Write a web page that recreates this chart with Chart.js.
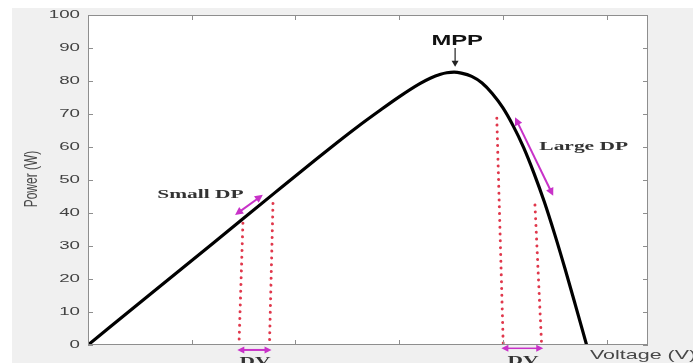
<!DOCTYPE html>
<html>
<head>
<meta charset="utf-8">
<script src="https://cdn.jsdelivr.net/npm/chart.js@4.4.1/dist/chart.umd.min.js"></script>
<style>
html,body{margin:0;padding:0;background:#fff;overflow:hidden;}
#c{display:block;}
</style>
</head>
<body>
<canvas id="c" width="693" height="363"></canvas>
<script>
// ---- data ----
const voltage = [0, 3, 6, 9, 11, 12, 13, 14, 15, 16, 16.5, 17, 17.3, 17.65, 18.0, 18.5, 19.0, 19.5, 20.0, 20.5, 21.0, 21.5, 22.0, 22.5, 23.0, 23.5, 24.04];
const power   = [0, 15.4, 30.7, 46.1, 56.3, 61.3, 66.15, 70.75, 75.2, 79.2, 80.85, 82.05, 82.5, 82.7, 82.4, 81.4, 79.4, 76.15, 71.9, 66.4, 59.9, 52.1, 43.4, 33.6, 23.1, 12.1, 0];
const yTickValues = [0, 10, 20, 30, 40, 50, 60, 70, 80, 90, 100];
const yTickLabels = ['0', '10', '20', '30', '40', '50', '60', '70', '80', '90', '100'];
const xTickValues = [5, 10, 15, 20, 25];
const xLabel = 'Voltage (V)';
const yLabel = 'Power (W)';
// dotted sampling lines: [Vtop, Ptop, Vbottom, Pbottom]
const dotLine1 = [7.47, 36.9, 7.28, 0];
const dotLine2 = [8.92, 42.9, 8.75, 0];
const dotLine3 = [19.71, 68.7, 20.02, 0];
const dotLine4 = [21.55, 42.4, 21.87, 0];
// annotations (data coordinates)
const mpp = {label: 'MPP', v: 17.8, p: 92.2, arrowTop: 90.0, arrowBottom: 84.3, arrowV: 17.7};
const smallDP = {label: 'Small DP', v: 5.42, p: 45.5, from: [7.09, 39.4], to: [8.43, 45.5]};
const largeDP = {label: 'Large DP', v: 23.9, p: 60.1, from: [20.59, 69.0], to: [22.43, 45.2]};
const dv1 = {label: 'DV', v: 8.05, p: -4.9, from: [7.2, -1.5], to: [8.85, -1.5]};
const dv2 = {label: 'DV', v: 20.97, p: -4.6, from: [19.93, -1.0], to: [21.95, -1.0]};

const lineDs = (arr) => ({
  data: [{x: arr[0], y: arr[1]}, {x: arr[2], y: arr[3]}],
  showLine: true,
  borderColor: '#e0384c', borderWidth: 3, borderDash: [0.01, 6.8], borderCapStyle: 'round',
  pointRadius: 0, fill: false, tension: 0
});

const STRETCH = 1.65;
function sText(ctx, txt, x, y, font, color, align, sx) {
  ctx.save();
  ctx.translate(x, y);
  ctx.scale(sx, 1);
  ctx.font = font;
  ctx.fillStyle = color;
  ctx.textAlign = align;
  ctx.textBaseline = 'middle';
  ctx.fillText(txt, 0, 0);
  ctx.restore();
}
function head(ctx, x1, y1, x2, y2, len, hw) {
  const a = Math.atan2(y2 - y1, x2 - x1);
  ctx.beginPath();
  ctx.moveTo(x2, y2);
  ctx.lineTo(x2 - len * Math.cos(a) + hw * Math.sin(a), y2 - len * Math.sin(a) - hw * Math.cos(a));
  ctx.lineTo(x2 - len * Math.cos(a) - hw * Math.sin(a), y2 - len * Math.sin(a) + hw * Math.cos(a));
  ctx.closePath();
  ctx.fill();
}
function dblArrow(ctx, x1, y1, x2, y2, color, w, len, hw) {
  ctx.save();
  ctx.strokeStyle = color; ctx.fillStyle = color; ctx.lineWidth = w;
  const a = Math.atan2(y2 - y1, x2 - x1);
  ctx.beginPath();
  ctx.moveTo(x1 + (len - 1) * Math.cos(a), y1 + (len - 1) * Math.sin(a));
  ctx.lineTo(x2 - (len - 1) * Math.cos(a), y2 - (len - 1) * Math.sin(a));
  ctx.stroke();
  head(ctx, x2, y2, x1, y1, len, hw);
  head(ctx, x1, y1, x2, y2, len, hw);
  ctx.restore();
}

const decor = {
  id: 'decor',
  beforeDraw(chart) {
    const ctx = chart.ctx, a = chart.chartArea;
    ctx.save();
    ctx.fillStyle = '#ffffff';
    ctx.fillRect(0, 0, chart.width, chart.height);
    ctx.fillStyle = '#f0f0f0';
    ctx.fillRect(12, 8, chart.width - 12, chart.height - 8);
    ctx.fillStyle = '#ffffff';
    ctx.fillRect(a.left, a.top, a.right - a.left, a.bottom - a.top);
    ctx.restore();
  },
  afterDraw(chart) {
    const ctx = chart.ctx, a = chart.chartArea;
    const xs = chart.scales.x, ys = chart.scales.y;
    const X = v => xs.getPixelForValue(v), Y = p => ys.getPixelForValue(p);
    ctx.save();
    // box
    ctx.strokeStyle = '#8e8e8e'; ctx.lineWidth = 1;
    ctx.strokeRect(a.left + 0.5, a.top + 0.5, a.right - a.left - 1, a.bottom - a.top - 1);
    ctx.beginPath();
    yTickValues.forEach(t => {
      const y = Math.round(Y(t)) + 0.5;
      ctx.moveTo(a.left, y); ctx.lineTo(a.left + 5, y);
      ctx.moveTo(a.right, y); ctx.lineTo(a.right - 5, y);
    });
    xTickValues.forEach(t => {
      const x = Math.round(X(t)) + 0.5;
      ctx.moveTo(x, a.bottom); ctx.lineTo(x, a.bottom - 5);
      ctx.moveTo(x, a.top); ctx.lineTo(x, a.top + 5);
    });
    ctx.stroke();
    // tick labels
    yTickValues.forEach((t, i) => {
      sText(ctx, yTickLabels[i], a.left - 8, Y(t), '11px "Liberation Sans", Arial, sans-serif', '#424242', 'right', 1.7);
    });
    // axis labels
    sText(ctx, xLabel, 590, 355, '13px "Liberation Sans", Arial, sans-serif', '#474747', 'left', STRETCH);
    ctx.save();
    ctx.translate(32, 179);
    ctx.scale(1.5, 1);
    ctx.rotate(-Math.PI / 2);
    ctx.font = '12px "Liberation Sans", Arial, sans-serif';
    ctx.fillStyle = '#474747'; ctx.textAlign = 'center'; ctx.textBaseline = 'middle';
    ctx.fillText(yLabel, 0, 0);
    ctx.restore();
    // MPP
    sText(ctx, mpp.label, X(mpp.v), Y(mpp.p), 'bold 14px "Liberation Sans", Arial, sans-serif', '#111', 'center', 1.7);
    ctx.strokeStyle = '#222'; ctx.fillStyle = '#222'; ctx.lineWidth = 1.2;
    ctx.beginPath();
    ctx.moveTo(X(mpp.arrowV), Y(mpp.arrowTop));
    ctx.lineTo(X(mpp.arrowV), Y(mpp.arrowBottom) - 5);
    ctx.stroke();
    head(ctx, X(mpp.arrowV), Y(mpp.arrowTop), X(mpp.arrowV), Y(mpp.arrowBottom), 6, 3.5);
    // DP labels & arrows
    const serif = 'bold 13px "Liberation Serif", "Times New Roman", serif';
    sText(ctx, smallDP.label, X(smallDP.v), Y(smallDP.p), serif, '#333', 'center', STRETCH);
    sText(ctx, largeDP.label, X(largeDP.v), Y(largeDP.p), serif, '#333', 'center', STRETCH);
    const mag = '#c832c8';
    dblArrow(ctx, X(smallDP.from[0]), Y(smallDP.from[1]), X(smallDP.to[0]), Y(smallDP.to[1]), mag, 2, 8, 4);
    dblArrow(ctx, X(largeDP.from[0]), Y(largeDP.from[1]), X(largeDP.to[0]), Y(largeDP.to[1]), mag, 2, 8, 4);
    dblArrow(ctx, X(dv1.from[0]), Y(dv1.from[1]), X(dv1.to[0]), Y(dv1.to[1]), mag, 2, 7, 3.5);
    dblArrow(ctx, X(dv2.from[0]), Y(dv2.from[1]), X(dv2.to[0]), Y(dv2.to[1]), mag, 1.5, 7, 3.5);
    sText(ctx, dv1.label, X(dv1.v), Y(dv1.p), serif, '#333', 'center', STRETCH);
    sText(ctx, dv2.label, X(dv2.v), Y(dv2.p), serif, '#333', 'center', STRETCH);
    ctx.restore();
  }
};

new Chart(document.getElementById('c'), {
  type: 'scatter',
  data: {
    datasets: [
      {
        data: voltage.map((v, i) => ({x: v, y: power[i]})),
        showLine: true, borderColor: '#000', borderWidth: 3.2, pointRadius: 0,
        cubicInterpolationMode: 'monotone', fill: false, borderCapStyle: 'round'
      },
      lineDs(dotLine1),
      lineDs(dotLine2),
      lineDs(dotLine3),
      lineDs(dotLine4)
    ]
  },
  options: {
    responsive: false,
    devicePixelRatio: 1,
    animation: false,
    events: [],
    layout: {padding: {left: 0, top: 15, right: 45, bottom: 0}},
    plugins: {legend: {display: false}, tooltip: {enabled: false}, title: {display: false}},
    scales: {
      x: {
        type: 'linear', min: 0, max: 27,
        ticks: {display: false, stepSize: 5},
        grid: {display: false}, border: {display: false},
        afterFit: s => { s.height = 18; }
      },
      y: {
        type: 'linear', min: 0, max: 100,
        ticks: {display: false, stepSize: 10},
        grid: {display: false}, border: {display: false},
        afterFit: s => { s.width = 88; }
      }
    }
  },
  plugins: [decor]
});
</script>
</body>
</html>
